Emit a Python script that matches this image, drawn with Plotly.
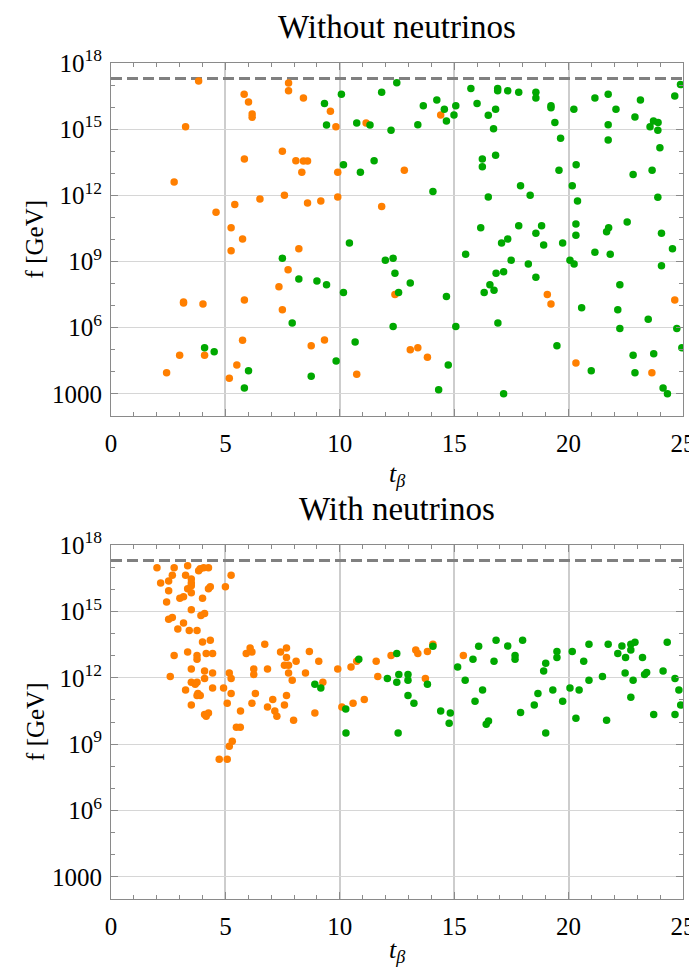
import plotly.graph_objects as go

# ---------------- data (x = t_beta, values = log10(f / GeV)) ----------------
top_orange_x = [3.83, 3.26, 2.76, 5.82, 6.01, 6.17, 6.17, 5.83, 7.76, 7.76, 7.49, 8.08, 8.34, 7.58, 6.51,
                5.41, 4.59, 5.25, 5.75, 8.41, 9.59, 9.83, 11.15, 14.41, 8.41, 8.59, 9.91, 12.82, 8.59, 9.17,
                9.91, 11.83, 5.25, 8.21, 7.74, 7.34, 3.17, 3.17, 4.02, 5.83, 7.49, 5.75, 3.0, 4.09, 5.5,
                2.43, 5.17, 8.75, 9.33, 10.74, 13.08, 13.41, 13.83, 12.41, 19.07, 19.23, 24.64, 20.32, 23.64]
top_orange_logf = [17.18, 15.11, 12.6, 16.58, 16.23, 15.69, 15.54, 13.65, 17.09, 16.74, 14.0, 13.57, 13.05, 12.0, 11.83,
                   11.58, 11.23, 10.53, 10.02, 16.41, 15.81, 15.11, 15.28, 15.64, 13.56, 13.56, 13.05, 13.14, 11.65, 11.74,
                   11.93, 11.49, 9.49, 9.58, 8.63, 7.86, 7.17, 7.12, 7.08, 7.26, 6.82, 5.43, 4.75, 4.75, 4.31,
                   3.96, 3.71, 5.18, 5.44, 3.89, 5.0, 5.09, 4.66, 7.51, 7.51, 7.08, 7.26, 4.4, 3.96]

top_green_x = [9.33, 10.07, 9.42, 10.74, 11.32, 11.83, 12.49, 12.24, 13.41, 13.65, 14.24, 14.57, 14.66, 15.07, 14.99,
               15.73, 16.0, 16.49, 10.16, 10.9, 11.5, 14.07, 16.23, 16.23, 16.49, 16.16, 16.9, 16.9, 17.34, 17.82,
               18.57, 18.57, 19.23, 19.23, 19.4, 19.65, 16.81, 16.72, 20.23, 21.15, 21.73, 22.07, 21.73, 21.73, 22.9,
               23.14, 23.71, 23.91, 23.56, 23.9, 23.99, 24.64, 24.89, 16.81, 19.58, 20.33, 17.9, 18.32, 20.16, 20.39,
               22.82, 23.65, 23.9, 17.82, 18.82, 18.57, 17.34, 20.32, 20.32, 21.75, 21.66, 22.56, 24.06, 7.49, 8.21,
               7.92, 4.09, 4.51, 6.01, 5.83, 10.42, 15.5, 11.99, 12.33, 12.41, 9.0, 9.42, 10.16, 13.08, 12.57,
               14.66, 16.31, 16.56, 12.33, 15.07, 10.67, 9.84, 8.75, 14.74, 14.32, 17.07, 18.91, 19.74, 24.54, 17.49,
               18.24, 20.06, 20.24, 21.15, 21.82, 24.06, 16.83, 17.16, 18.57, 16.74, 22.24, 20.57, 22.15, 23.48, 16.91,
               22.24, 24.73, 19.49, 24.95, 20.99, 22.82, 23.72, 22.9, 24.13, 24.32, 17.16]
top_green_logf = [16.16, 16.58, 15.19, 15.28, 15.19, 16.67, 17.11, 14.95, 15.2, 16.06, 16.32, 15.9, 15.37, 16.06, 15.64,
                  16.84, 16.16, 15.63, 13.39, 13.05, 13.57, 12.17, 13.65, 13.3, 11.93, 10.53, 16.84, 16.74, 16.74, 16.67,
                  16.67, 16.41, 16.06, 15.97, 15.3, 14.59, 15.9, 15.02, 15.9, 16.41, 16.58, 15.9, 15.2, 14.51, 15.55,
                  16.32, 15.37, 15.3, 15.11, 14.95, 14.16, 16.5, 17.02, 13.82, 13.14, 13.39, 12.44, 12.0, 12.44, 11.74,
                  12.95, 13.14, 11.91, 10.62, 10.62, 10.28, 10.02, 10.7, 10.19, 10.53, 10.35, 10.79, 10.28, 9.15, 8.21,
                  6.21, 5.09, 4.91, 4.05, 3.27, 9.84, 9.33, 9.06, 9.15, 8.47, 8.12, 7.95, 7.6, 8.03, 7.6,
                  7.42, 7.6, 7.95, 6.05, 6.05, 5.35, 4.49, 3.8, 4.31, 3.19, 9.84, 9.75, 9.84, 9.58, 9.06,
                  8.89, 9.06, 8.89, 9.42, 9.33, 8.81, 8.47, 8.54, 8.29, 7.70, 7.95, 6.91, 6.82, 6.38, 6.21,
                  5.96, 5.96, 5.18, 5.09, 4.05, 4.75, 4.82, 3.96, 3.27, 3.01, 3.01]

bot_orange_x = [2.01, 2.76, 3.35, 3.83, 3.90, 4.05, 4.26, 2.68, 3.26, 5.25, 2.17, 2.52, 3.51, 3.51, 3.51,
                5.0, 2.52, 3.35, 3.51, 4.26, 4.34, 3.01, 3.17, 2.43, 4.0, 3.51, 3.93, 4.09, 2.52, 2.68,
                3.17, 2.92, 3.42, 3.76, 4.0, 4.34, 2.76, 3.35, 3.76, 3.76, 4.16, 4.44, 3.51, 2.59, 4.09,
                4.44, 4.09, 3.51, 3.68, 3.76, 3.26, 3.76, 3.9, 3.8, 4.44, 3.51, 4.09, 4.26, 4.16, 4.92,
                5.17, 5.25, 5.25, 5.08, 5.66, 5.91, 6.08, 6.16, 6.24, 6.24, 6.72, 6.84, 6.31, 6.16, 7.07,
                6.84, 7.16, 7.25, 7.41, 7.67, 7.67, 7.58, 7.76, 7.76, 8.09, 7.92, 7.67, 7.58, 8.67, 9.08,
                8.5, 9.26, 8.91, 7.98, 9.91, 10.49, 10.74, 10.09, 10.58, 11.07, 11.59, 11.66, 12.24, 13.32, 13.41,
                13.83, 14.07, 13.74, 15.4, 4.73, 5.08, 5.17, 5.3, 5.48, 5.65]
bot_orange_logf = [16.97, 16.97, 17.06, 16.84, 16.93, 16.97, 16.97, 16.64, 16.64, 16.64, 16.28, 16.37, 16.46, 16.28, 16.16,
                   16.11, 15.93, 16.02, 15.84, 16.02, 16.11, 15.59, 15.66, 15.42, 15.59, 15.07, 14.82, 14.91, 14.65, 14.73,
                   14.48, 14.21, 14.14, 14.14, 13.62, 13.70, 13.01, 13.17, 13.01, 12.84, 13.1, 13.1, 12.40, 12.06, 12.31,
                   12.22, 11.97, 11.8, 11.71, 11.8, 11.45, 11.2, 11.2, 11.29, 11.54, 10.77, 10.34, 10.41, 10.26, 11.54,
                   12.22, 11.97, 11.29, 10.85, 10.5, 13.1, 13.35, 13.17, 12.40, 12.15, 13.52, 12.40, 11.29, 10.85, 11.02,
                   10.68, 10.5, 10.26, 13.17, 13.35, 12.92, 12.57, 12.57, 12.22, 12.75, 11.89, 11.2, 10.77, 13.19, 12.75,
                   12.22, 11.8, 10.41, 10.08, 12.40, 12.49, 12.75, 10.68, 10.85, 11.02, 12.75, 12.06, 13.01, 13.26, 13.1,
                   13.19, 13.52, 11.97, 13.01, 8.32, 8.32, 8.9, 9.13, 9.76, 9.76]

bot_green_x = [8.91, 9.17, 10.83, 10.26, 12.49, 12.08, 12.49, 12.58, 12.98, 12.98, 12.98, 13.24, 14.07, 13.83, 14.41,
               14.83, 15.15, 15.48, 15.82, 16.07, 15.91, 16.24, 16.83, 17.34, 17.99, 16.74, 17.66, 17.66, 19.49, 19.49,
               19.0, 18.91, 20.16, 20.89, 20.66, 21.73, 22.15, 22.33, 22.72, 22.9, 22.72, 22.49, 23.23, 24.31, 22.47,
               21.48, 20.89, 20.06, 20.46, 19.31, 18.66, 19.74, 18.5, 17.9, 22.82, 22.72, 23.32, 23.41, 24.13, 24.65,
               24.82, 24.9, 23.72, 24.65, 20.32, 21.66, 10.27, 12.55, 14.78, 16.4, 16.5, 19.0]
bot_green_logf = [11.71, 11.54, 12.84, 10.59, 13.1, 11.97, 11.8, 12.15, 12.15, 11.89, 11.2, 10.85, 13.43, 11.71, 10.5,
                  10.41, 12.49, 11.89, 12.84, 13.43, 10.94, 11.45, 13.70, 13.44, 13.70, 12.75, 13.01, 12.84, 13.19, 12.92,
                  12.66, 12.31, 13.19, 13.52, 12.75, 13.52, 13.1, 13.44, 13.52, 13.61, 13.26, 12.92, 12.92, 13.61, 12.22,
                  12.06, 11.89, 11.54, 11.45, 11.45, 11.29, 10.94, 10.77, 10.43, 11.89, 11.12, 12.15, 12.24, 12.31, 11.97,
                  11.45, 10.77, 10.34, 10.34, 10.17, 10.08, 9.5, 9.5, 9.95, 9.9, 10.05, 9.5]

planck_logf = 17.3
x_ticks = [0, 5, 10, 15, 20, 25]
y_tickvals_log = [3, 6, 9, 12, 15, 18]
y_ticktext = ["1000", "10<sup>6</sup>", "10<sup>9</sup>", "10<sup>12</sup>", "10<sup>15</sup>", "10<sup>18</sup>"]
titles = ["Without neutrinos", "With neutrinos"]

ORANGE = "#FF7F00"
GREEN = "#00A800"
FONT = "Liberation Serif"

fig = go.Figure()

panels = [
    ("x", "y", top_orange_x, top_orange_logf, top_green_x, top_green_logf),
    ("x2", "y2", bot_orange_x, bot_orange_logf, bot_green_x, bot_green_logf),
]
for xa, ya, ox, oy, gx, gy in panels:
    fig.add_trace(go.Scatter(x=[x_ticks[0], x_ticks[-1]], y=[10 ** planck_logf] * 2, mode="lines",
                             line=dict(color="#808080", width=3, dash="11px,5px"),
                             xaxis=xa, yaxis=ya, hoverinfo="skip"))
    fig.add_trace(go.Scatter(x=ox, y=[10 ** v for v in oy], mode="markers",
                             marker=dict(color=ORANGE, size=7.5), xaxis=xa, yaxis=ya))
    fig.add_trace(go.Scatter(x=gx, y=[10 ** v for v in gy], mode="markers",
                             marker=dict(color=GREEN, size=7.5), xaxis=xa, yaxis=ya))

frame = "#8a8a8a"
def xaxis_cfg(anchor):
    return dict(anchor=anchor, domain=[0, 1], range=[0, 25], tickvals=x_ticks, automargin=False,
                ticks="inside", ticklen=7, tickcolor=frame, tickwidth=1, ticklabelstandoff=5,
                showline=True, linecolor=frame, linewidth=1, mirror="ticks",
                showgrid=True, gridcolor="#cdcdcd", gridwidth=2, zeroline=False,
                minor=dict(dtick=1, ticks="inside", ticklen=4, tickcolor=frame, showgrid=False),
                tickfont=dict(family=FONT, size=25, color="black"))

def yaxis_cfg(anchor, domain):
    return dict(anchor=anchor, domain=domain, type="log", range=[2, 18], automargin=False,
                tickvals=[10 ** k for k in y_tickvals_log], ticktext=y_ticktext,
                ticks="inside", ticklen=7, tickcolor=frame, tickwidth=1, ticklabelstandoff=3,
                showline=True, linecolor=frame, linewidth=1, mirror="ticks",
                showgrid=True, gridcolor="#d6d6d6", gridwidth=1, zeroline=False,
                minor=dict(tickvals=[10 ** k for k in range(2, 19)], ticks="inside", ticklen=4,
                           tickcolor=frame, showgrid=False),
                tickfont=dict(family=FONT, size=25, color="black"))

# the page body has an 8px default margin, so the figure is 8px smaller than the window
fig.update_layout(
    width=689, height=960,
    margin=dict(l=103, r=14, t=55, b=69, autoexpand=False),
    paper_bgcolor="white", plot_bgcolor="white",
    showlegend=False,
    xaxis=xaxis_cfg("y"), yaxis=yaxis_cfg("x", [0.5778, 1.0]),
    xaxis2=xaxis_cfg("y2"), yaxis2=yaxis_cfg("x2", [0.0, 0.4234]),
)

ann = []
for title, ty in zip(titles, [1.043, 0.4665]):
    ann.append(dict(text=title, x=0.5, y=ty, xref="paper", yref="paper", showarrow=False,
                    xanchor="center", yanchor="middle", font=dict(family=FONT, size=33, color="black")))
for fy in [0.7889, 0.2117]:
    ann.append(dict(text="f [GeV]", x=-0.133, y=fy, xref="paper", yref="paper", showarrow=False,
                    textangle=-90, xanchor="center", yanchor="middle",
                    font=dict(family=FONT, size=25, color="black")))
for ty in [0.507, -0.062]:
    ann.append(dict(text="<i>t<sub>β</sub></i>", x=0.5, y=ty, xref="paper", yref="paper", showarrow=False,
                    xanchor="center", yanchor="middle", font=dict(family=FONT, size=26, color="black")))
fig.update_layout(annotations=ann)

fig.write_html("out.html")
